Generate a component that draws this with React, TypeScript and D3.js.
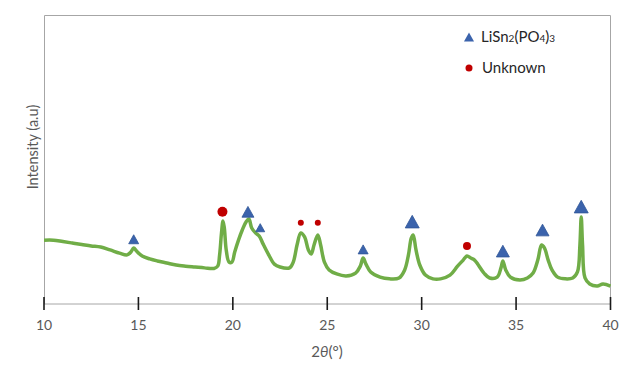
import React, { useEffect, useRef } from 'react'
import * as d3 from 'd3'

// XRD pattern, 2theta (deg) vs intensity (a.u.)
const twoTheta = [10.0, 10.5, 11.0, 11.5, 12.0, 12.5, 13.0, 13.5, 14.0, 14.4, 14.6, 14.75, 14.9, 15.2, 15.6, 16.0, 16.5, 17.0, 17.5, 18.0, 18.5, 19.0, 19.2, 19.3, 19.4, 19.48, 19.55, 19.65, 19.8, 19.95, 20.1, 20.3, 20.5, 20.7, 20.85, 21.0, 21.2, 21.4, 21.6, 21.9, 22.2, 22.5, 23.0, 23.2, 23.4, 23.6, 23.8, 24.0, 24.15, 24.3, 24.5, 24.65, 24.85, 25.1, 25.5, 26.0, 26.5, 26.75, 26.9, 27.05, 27.3, 27.8, 28.3, 28.8, 29.1, 29.3, 29.45, 29.55, 29.7, 29.9, 30.2, 30.6, 31.0, 31.5, 31.9, 32.2, 32.4, 32.6, 32.8, 33.0, 33.3, 33.6, 34.0, 34.2, 34.3, 34.45, 34.7, 35.2, 35.6, 35.9, 36.15, 36.35, 36.5, 36.7, 36.9, 37.2, 37.6, 38.0, 38.25, 38.38, 38.45, 38.52, 38.65, 38.9, 39.3, 39.6, 40.0]
const intensity = [22.1, 22.1, 21.6, 21.1, 20.6, 20.1, 19.7, 18.7, 17.6, 17.0, 18.0, 19.4, 18.3, 16.6, 15.6, 14.9, 14.2, 13.5, 13.1, 12.8, 12.5, 12.3, 13.1, 17.0, 24.6, 28.7, 26.3, 18.7, 14.5, 14.5, 18.0, 22.1, 25.6, 28.4, 29.4, 26.3, 24.6, 23.5, 20.8, 17.0, 13.8, 12.8, 12.5, 14.5, 20.4, 24.6, 23.2, 18.7, 17.3, 20.4, 23.9, 20.4, 14.5, 11.8, 10.4, 9.7, 10.7, 13.1, 15.9, 13.8, 11.1, 9.3, 8.7, 9.0, 11.8, 17.0, 22.8, 23.9, 18.7, 13.5, 10.0, 8.7, 8.7, 10.0, 13.1, 15.2, 16.6, 15.9, 15.2, 13.5, 10.7, 9.0, 9.3, 12.5, 14.9, 11.8, 9.3, 8.3, 9.0, 10.7, 15.2, 20.4, 19.4, 15.2, 11.8, 9.3, 8.7, 9.0, 11.1, 20.4, 30.1, 20.4, 9.0, 6.9, 6.2, 6.9, 6.2]

// peak markers
const lisnX = [14.75, 20.8, 21.45, 26.9, 29.5, 34.3, 36.4, 38.45]
const lisnY = [22.4, 31.9, 26.4, 18.9, 28.5, 18.3, 25.6, 33.7]
const lisnSize = [10, 12, 9, 10, 14, 13, 13, 14]
const unkX = [19.45, 23.6, 24.5, 32.4]
const unkY = [31.9, 28.1, 28.1, 20.1]
const unkSize = [10, 6, 6, 8]

const xTicks = [10, 15, 20, 25, 30, 35, 40]

const W = 634, H = 367
const font = 'Lato, "Open Sans", sans-serif'

function App() {
  const ref = useRef<SVGSVGElement>(null)

  useEffect(() => {
    const svg = d3.select(ref.current)
    svg.selectAll('*').remove()

    const x = d3.scaleLinear().domain([10, 40]).range([44, 610.5])
    const y = d3.scaleLinear().domain([0, 100]).range([304, 15])

    // plot area frame (left, top, right)
    svg.append('path')
      .attr('d', `M44.5,304V15.5H610.5V304`)
      .attr('fill', 'none')
      .attr('stroke', '#a6a6a6')
      .attr('stroke-width', 1)

    // x axis
    svg.append('line')
      .attr('x1', 44).attr('x2', 611)
      .attr('y1', 304).attr('y2', 304)
      .attr('stroke', '#a6a6a6')
    svg.append('g').selectAll('line').data(xTicks).enter().append('line')
      .attr('x1', d => x(d)).attr('x2', d => x(d))
      .attr('y1', 297).attr('y2', 310)
      .attr('stroke', '#1a1a1a').attr('stroke-width', 1.6)
    svg.append('g').selectAll('text').data(xTicks).enter().append('text')
      .attr('x', d => x(d)).attr('y', 330)
      .attr('text-anchor', 'middle')
      .style('font-family', font).style('font-size', '14px')
      .attr('fill', '#595959')
      .text(d => d)

    // axis titles
    const xt = svg.append('text')
      .attr('x', 327).attr('y', 357)
      .attr('text-anchor', 'middle')
      .style('font-family', font).style('font-size', '15px')
      .attr('fill', '#595959')
    xt.append('tspan').text('2')
    xt.append('tspan').style('font-style', 'italic').text('θ')
    xt.append('tspan').text('(°)')

    svg.append('text')
      .attr('transform', 'translate(38,147) rotate(-90)')
      .attr('text-anchor', 'middle')
      .style('font-family', font).style('font-size', '14.5px')
      .attr('fill', '#595959')
      .text('Intensity (a.u)')

    // pattern
    const pts = twoTheta.map((t, i) => [t, intensity[i]] as [number, number])
    const line = d3.line<[number, number]>()
      .x(d => x(d[0])).y(d => y(d[1]))
      .curve(d3.curveCatmullRom.alpha(0.5))
    svg.append('path')
      .datum(pts)
      .attr('d', line)
      .attr('fill', 'none')
      .attr('stroke', '#70ad47')
      .attr('stroke-width', 3.5)
      .attr('stroke-linejoin', 'round')

    const tri = (cx: number, cy: number, s: number) => {
      const h = s * 0.9
      return `M${cx},${cy - h / 2}L${cx + s / 2},${cy + h / 2}L${cx - s / 2},${cy + h / 2}Z`
    }

    // LiSn2(PO4)3 markers
    svg.append('g').selectAll('path').data(lisnX).enter().append('path')
      .attr('d', (d, i) => tri(x(d), y(lisnY[i]), lisnSize[i]))
      .attr('fill', '#3b63ac')
      .attr('stroke', '#2f5597').attr('stroke-width', 0.8)

    // unknown markers
    svg.append('g').selectAll('circle').data(unkX).enter().append('circle')
      .attr('cx', d => x(d)).attr('cy', (d, i) => y(unkY[i]))
      .attr('r', (d, i) => unkSize[i] / 2)
      .attr('fill', '#c00000')

    // legend
    svg.append('path').attr('d', tri(469, 37, 10)).attr('fill', '#3b63ac')
    svg.append('circle').attr('cx', 469).attr('cy', 68).attr('r', 3.5).attr('fill', '#c00000')
    const lt = svg.append('text')
      .attr('x', 481).attr('y', 42)
      .style('font-family', font).style('font-size', '15px')
      .attr('fill', '#262626')
    lt.append('tspan').text('LiSn')
    lt.append('tspan').style('font-size', '10px').text('2')
    lt.append('tspan').text('(PO')
    lt.append('tspan').style('font-size', '10px').text('4')
    lt.append('tspan').text(')')
    lt.append('tspan').style('font-size', '10px').text('3')
    svg.append('text')
      .attr('x', 482).attr('y', 73)
      .style('font-family', font).style('font-size', '15px')
      .attr('fill', '#262626')
      .text('Unknown')
  }, [])

  return (
    <svg ref={ref} width={W} height={H}
      style={{ position: 'absolute', left: 0, top: 0, background: '#fff' }} />
  )
}

export default App
